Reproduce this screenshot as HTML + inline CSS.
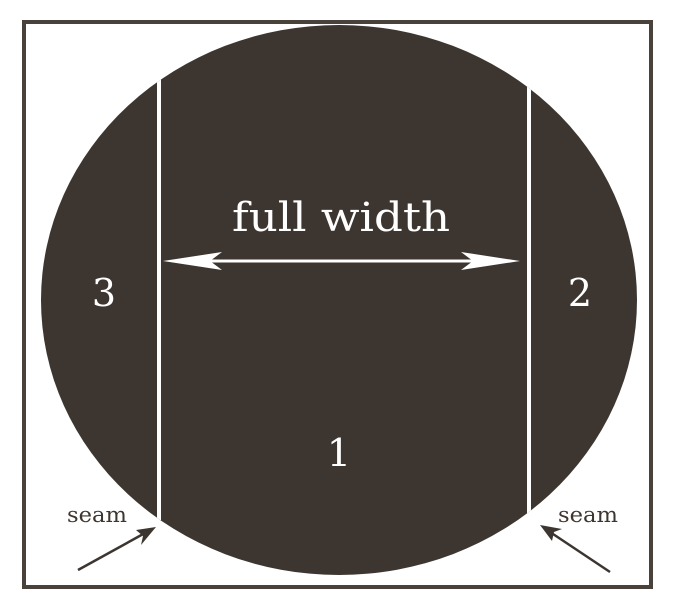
<!DOCTYPE html>
<html><head><style>body{margin:0;background:#fff}svg{display:block}</style></head>
<body>
<svg width="680" height="614" viewBox="0 0 680 614" xmlns="http://www.w3.org/2000/svg">
<defs><clipPath id="c"><ellipse cx="339" cy="300" rx="298" ry="275"/></clipPath></defs>
<rect x="24" y="22" width="627" height="565" fill="#fff" stroke="#48423b" stroke-width="4"/>
<ellipse cx="339" cy="300" rx="298" ry="275" fill="#3d3630"/>
<g clip-path="url(#c)" stroke="#fff" stroke-width="4">
<line x1="159" y1="0" x2="159" y2="520"/>
<line x1="529" y1="0" x2="529" y2="520"/>
</g>
<line x1="175" y1="261" x2="508" y2="261" stroke="#fff" stroke-width="3"/>
<path d="M163 261 L222 252 L210 261 L222 270 Z" fill="#fff"/>
<path d="M520 261 L461 252 L473 261 L461 270 Z" fill="#fff"/>
<g font-family="'DejaVu Serif','Liberation Serif',serif" fill="#fff" text-anchor="middle">
<text x="341" y="231" font-size="40" textLength="218" lengthAdjust="spacingAndGlyphs">full width</text>
<text x="104" y="306" font-size="38">3</text>
<text x="580" y="306" font-size="38">2</text>
<text x="339" y="466" font-size="38">1</text>
</g>
<g font-family="'DejaVu Serif','Liberation Serif',serif" fill="#3d3630" font-size="21" text-anchor="middle">
<text x="97" y="522" textLength="60" lengthAdjust="spacingAndGlyphs">seam</text>
<text x="588" y="522" textLength="60" lengthAdjust="spacingAndGlyphs">seam</text>
</g>
<g stroke="#3d3630" stroke-width="2.5" fill="#3d3630">
<line x1="78" y1="570" x2="145" y2="533"/>
<path d="M156 527 L136 530 L143 536 L141 545 Z" stroke="none"/>
<line x1="610" y1="572" x2="550" y2="532"/>
<path d="M540 525 L552 541 L554 532 L562 529 Z" stroke="none"/>
</g>
</svg>
</body></html>
